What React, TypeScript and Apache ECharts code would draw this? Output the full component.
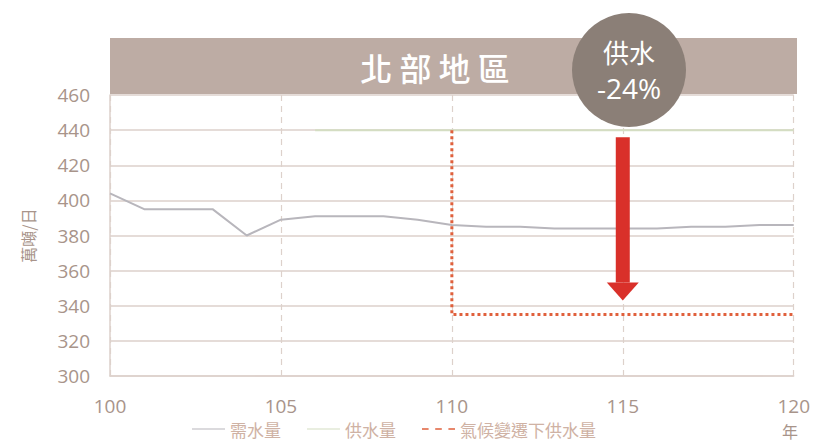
import React, { useEffect, useRef } from "react";
import * as echarts from "echarts";

const years = [100, 101, 102, 103, 104, 105, 106, 107, 108, 109, 110, 111, 112, 113, 114, 115, 116, 117, 118, 119, 120];
const demand = [404, 395, 395, 395, 380, 389, 391, 391, 391, 389, 386, 385, 385, 384, 384, 384, 384, 385, 385, 386, 386];
const supplyYears = [106, 108, 110, 112, 114, 116, 118, 120];
const supply = [440, 440, 440, 440, 440, 440, 440, 440];
const climateYears = [110, 110, 120];
const climateSupply = [440, 335, 335];
const seriesNames = ["需水量", "供水量", "氣候變遷下供水量"];
const arrowYear = 115;
const arrowFrom = 436;
const arrowTo = 343;

export default function App() {
  const ref = useRef<HTMLDivElement>(null);
  useEffect(() => {
    document.body.style.margin = "0";
    const chart = echarts.init(ref.current!, null, { renderer: "svg" });
    const labelColor = "#a8948a";
    const gridColor = "#ddd1cb";
    chart.setOption({
      animation: false,
      backgroundColor: "#ffffff",
      grid: { left: 110, right: 18, top: 95, bottom: 70 },
      legend: {
        top: 420,
        left: 192,
        padding: 0,
        itemWidth: 33,
        itemHeight: 10,
        itemGap: 26,
        textStyle: { color: "#cfb2a4", fontSize: 17, lineHeight: 18, fontFamily: "Noto Sans CJK TC" },
        data: [
          { name: seriesNames[0], icon: "path://M0,5L40,5L40,6.5L0,6.5Z" },
          { name: seriesNames[1], icon: "path://M0,5L40,5L40,6.5L0,6.5Z" },
          { name: seriesNames[2], icon: "path://M0,5L8,5L8,7L0,7ZM16,5L24,5L24,7L16,7ZM32,5L40,5L40,7L32,7Z" },
        ],
      },
      xAxis: {
        type: "value",
        min: 100,
        max: 120,
        interval: 5,
        axisLine: { show: true, lineStyle: { color: gridColor, width: 1.5 } },
        axisTick: { show: false },
        axisLabel: { color: labelColor, fontSize: 19, margin: 20, fontFamily: "Open Sans" },
        splitLine: { show: true, lineStyle: { color: gridColor, width: 1.2, type: [6, 5] } },
      },
      yAxis: {
        type: "value",
        min: 300,
        max: 460,
        interval: 20,
        name: "萬噸/日",
        nameLocation: "middle",
        nameRotate: 90,
        nameGap: 74,
        nameTextStyle: { color: labelColor, fontSize: 16, fontFamily: "Noto Sans CJK TC" },
        axisLine: { show: true, lineStyle: { color: gridColor, width: 1.5 } },
        axisTick: { show: false },
        axisLabel: { color: labelColor, fontSize: 19, margin: 20, fontFamily: "Open Sans" },
        splitLine: { show: true, lineStyle: { color: gridColor, width: 1.5 } },
      },
      series: [
        {
          name: seriesNames[0],
          type: "line",
          data: years.map((y, i) => [y, demand[i]]),
          symbol: "none",
          color: "#b8b6bc",
          lineStyle: { color: "#b8b6bc", width: 2 },
        },
        {
          name: seriesNames[1],
          type: "line",
          data: supplyYears.map((y, i) => [y, supply[i]]),
          symbol: "none",
          color: "#d4ddc2",
          lineStyle: { color: "#d4ddc2", width: 2 },
        },
        {
          name: seriesNames[2],
          type: "line",
          data: climateYears.map((y, i) => [y, climateSupply[i]]),
          symbol: "none",
          color: "#e0603c",
          lineStyle: { color: "#e0603c", width: 3, type: [3, 3] },
        },
      ],
    });

    const top = chart.convertToPixel({ gridIndex: 0 }, [arrowYear, arrowFrom]) as number[];
    const tip = chart.convertToPixel({ gridIndex: 0 }, [arrowYear, arrowTo]) as number[];
    const cx = top[0];
    const headH = 18;
    const red = "#d9302a";
    chart.setOption({
      graphic: [
        { type: "rect", shape: { x: 110, y: 38, width: 687, height: 56 }, style: { fill: "#bdaca4" }, z: 1 },
        {
          type: "text",
          x: 435,
          y: 67,
          style: {
            text: "北 部 地 區",
            fill: "#ffffff",
            fontSize: 32,
            fontWeight: 500,
            fontFamily: "Noto Sans CJK TC",
            align: "center",
            verticalAlign: "middle",
          },
          z: 2,
        },
        { type: "rect", shape: { x: cx - 7, y: top[1], width: 14, height: tip[1] - headH - top[1] }, style: { fill: red }, z: 5 },
        {
          type: "polygon",
          shape: { points: [[cx - 16, tip[1] - headH], [cx + 16, tip[1] - headH], [cx, tip[1]]] },
          style: { fill: red },
          z: 5,
        },
        { type: "circle", shape: { cx: 629, cy: 70, r: 57 }, style: { fill: "#8b7f77" }, z: 6 },
        {
          type: "text",
          x: 629,
          y: 51,
          style: { text: "供水", fill: "#ffffff", fontSize: 26, fontFamily: "Noto Sans CJK TC", align: "center", verticalAlign: "middle" },
          z: 7,
        },
        {
          type: "text",
          x: 629,
          y: 88,
          style: { text: "-24%", fill: "#ffffff", fontSize: 28, fontFamily: "Open Sans", align: "center", verticalAlign: "middle" },
          z: 7,
        },
        {
          type: "text",
          x: 790,
          y: 431,
          style: { text: "年", fill: labelColor, fontSize: 16, fontFamily: "Noto Sans CJK TC", align: "center", verticalAlign: "middle" },
          z: 7,
        },
      ],
    });
    return () => chart.dispose();
  }, []);
  return <div ref={ref} style={{ position: "absolute", left: 0, top: 0, width: 813, height: 446 }} />;
}
